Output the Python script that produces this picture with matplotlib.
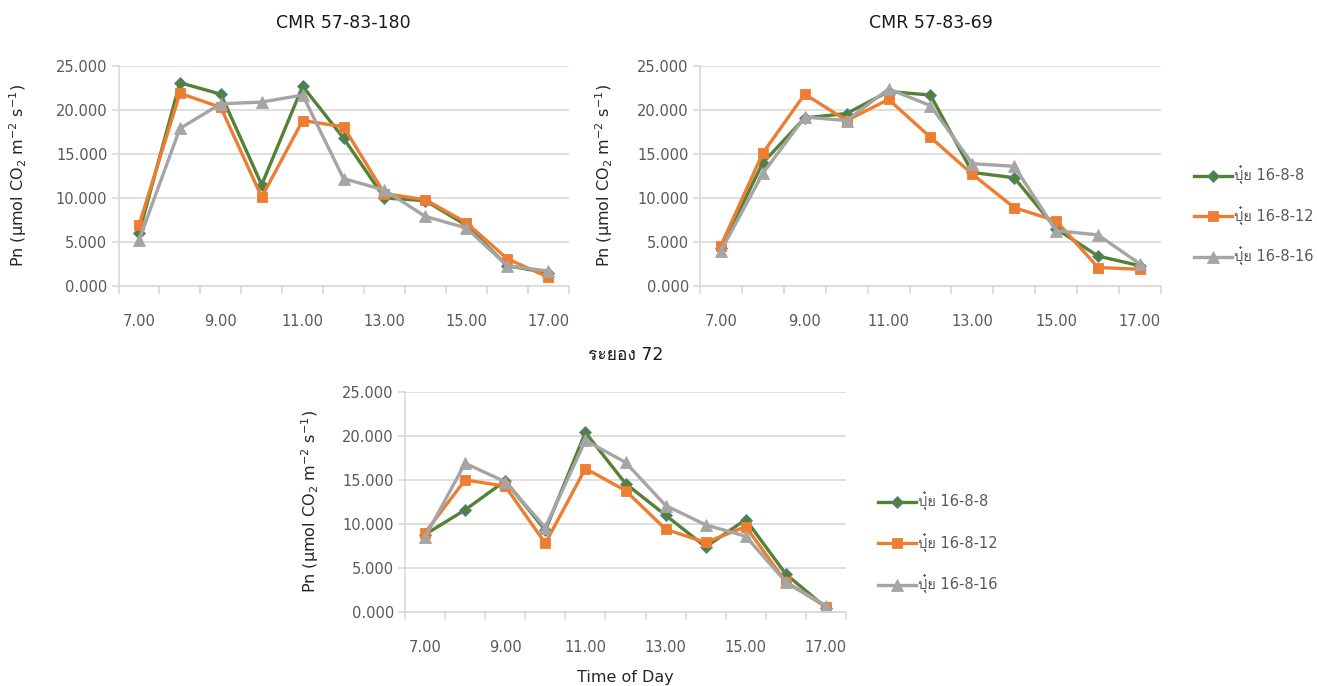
import matplotlib
matplotlib.use("Agg")
import matplotlib.pyplot as plt
from matplotlib import font_manager
from matplotlib.ft2font import FT2Font

# pick up any installed family that can draw Thai text
thai_families = []
for fe in font_manager.fontManager.ttflist:
    try:
        if ord("ป") in FT2Font(fe.fname).get_charmap() and fe.name not in thai_families:
            thai_families.append(fe.name)
    except Exception:
        pass
plt.rcParams["font.family"] = ["DejaVu Sans"] + thai_families[:1]

hours = ["7.00", "8.00", "9.00", "10.00", "11.00", "12.00",
         "13.00", "14.00", "15.00", "16.00", "17.00"]
series_names = ["ปุ๋ย 16-8-8", "ปุ๋ย 16-8-12", "ปุ๋ย 16-8-16"]

cmr180_f8 = [6.0, 23.1, 21.8, 11.5, 22.7, 16.8, 10.0, 9.7, 6.9, 2.3, 1.5]
cmr180_f12 = [6.9, 21.9, 20.3, 10.1, 18.8, 18.1, 10.5, 9.8, 7.2, 3.1, 1.0]
cmr180_f16 = [5.2, 17.9, 20.7, 20.9, 21.7, 12.2, 10.9, 7.9, 6.6, 2.3, 1.7]

cmr69_f8 = [4.3, 14.0, 19.1, 19.6, 22.1, 21.7, 12.9, 12.3, 6.5, 3.4, 2.3]
cmr69_f12 = [4.6, 15.1, 21.8, 18.8, 21.2, 16.9, 12.7, 8.9, 7.4, 2.1, 1.9]
cmr69_f16 = [4.0, 12.8, 19.2, 18.8, 22.4, 20.5, 13.9, 13.6, 6.3, 5.8, 2.5]

ry72_f8 = [8.8, 11.6, 14.9, 9.3, 20.4, 14.6, 11.0, 7.4, 10.5, 4.3, 0.5]
ry72_f12 = [9.0, 15.0, 14.3, 7.8, 16.3, 13.8, 9.4, 7.9, 9.7, 3.4, 0.6]
ry72_f16 = [8.5, 16.9, 14.8, 9.6, 19.5, 17.0, 12.1, 9.9, 8.6, 3.4, 0.7]

colors = ["#548235", "#ED7D31", "#A5A5A5"]
markers = ["D", "s", "^"]
msizes = [6, 7.5, 8]
grid_c = "#D9D9D9"
text_c = "#595959"

fig = plt.figure(figsize=(13.17, 6.86), dpi=100)


def panel(rect, title, data, ylab_x, title_pad):
    ax = fig.add_axes(rect)
    x = list(range(len(hours)))
    lines = []
    for vals, c, m, ms, name in zip(data, colors, markers, msizes, series_names):
        mec = "#4F81BD" if m == "D" else c
        ln, = ax.plot(x, vals, color=c, lw=2.4, marker=m, ms=ms,
                      mfc=c, mec=mec, mew=0.6, label=name)
        lines.append(ln)
    ax.set_xlim(-0.5, len(hours) - 0.5)
    ax.set_ylim(0, 25)
    ax.set_yticks([0, 5, 10, 15, 20, 25])
    ax.set_yticklabels([f"{v:.3f}" for v in [0, 5, 10, 15, 20, 25]])
    # tick marks sit between categories, labels on every other hour
    ax.set_xticks([i - 0.5 for i in range(len(hours) + 1)])
    ax.set_xticklabels([])
    ax.set_xticks(x[::2], minor=True)
    ax.set_xticklabels(hours[::2], minor=True)
    ax.tick_params(axis="x", which="major", direction="out", length=6,
                   color=grid_c, width=1.2)
    ax.tick_params(axis="x", which="minor", length=0, pad=20,
                   labelsize=10.5, labelcolor=text_c)
    ax.tick_params(axis="y", direction="out", length=5, color=grid_c,
                   width=1.2, pad=3, labelsize=10.5, labelcolor=text_c)
    ax.grid(axis="y", color=grid_c, lw=1.2)
    ax.set_axisbelow(True)
    for s in ["top", "right"]:
        ax.spines[s].set_visible(False)
    for s in ["left", "bottom"]:
        ax.spines[s].set_color(grid_c)
        ax.spines[s].set_linewidth(1.2)
    ax.set_ylabel("Pn (µmol CO$_2$ m$^{-2}$ s$^{-1}$)", fontsize=11.5,
                  color="#262626")
    ax.yaxis.set_label_coords(ylab_x, 0.5)
    ax.set_title(title, fontsize=12.5, color="#1a1a1a", pad=title_pad)
    return ax, lines


ax1, _ = panel([0.090, 0.5831, 0.3417, 0.3207], "CMR 57-83-180",
               [cmr180_f8, cmr180_f12, cmr180_f16], -0.200, 27.5)
ax2, h2 = panel([0.5315, 0.5831, 0.350, 0.3207], "CMR 57-83-69",
                [cmr69_f8, cmr69_f12, cmr69_f16], -0.185, 27.5)
ax3, h3 = panel([0.3075, 0.1079, 0.3349, 0.3207], "ระยอง 72",
                [ry72_f8, ry72_f12, ry72_f16], -0.190, 23)
ax3.set_xlabel("Time of Day", fontsize=11.5, color="#262626", labelpad=11)

for h, anchor, sp in [(h2, (0.901, 0.685), 1.45), (h3, (0.661, 0.2085), 1.55)]:
    fig.legend(handles=h, loc="center left", bbox_to_anchor=anchor,
               frameon=False, fontsize=10.5, handlelength=2.6,
               handletextpad=0.15, labelspacing=sp, borderpad=0,
               labelcolor=text_c)

fig.savefig("out.png", dpi=100)
